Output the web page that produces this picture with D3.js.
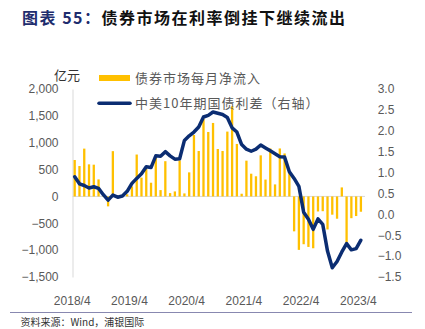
<!DOCTYPE html>
<html>
<head>
<meta charset="utf-8">
<script src="https://cdn.jsdelivr.net/npm/d3@7"></script>
<style>
  body { margin: 0; background: #fff; }
  svg { display: block; }
  .num { font-family: "Liberation Sans", Arial, sans-serif; font-size: 12px; fill: #595959; }
  .cjk { font-family: "Noto Sans CJK SC", sans-serif; }
</style>
</head>
<body>
<div id="chart"></div>
<script>
// month categories 2018/4 .. 2023/4
const months = [];
for (let y = 2018, m = 4; y < 2023 || (y === 2023 && m <= 4); m++) {
    if (m > 12) { m = 1; y++; }
    months.push(y + "/" + m);
}

// 债券市场每月净流入 (亿元)
const netFlow = [
    678, 566, 890, 597, 591, 317, 30, -185, 843, 10,
    20, 40, 187, 780, 350, 510, 255, 720, 118, 656,
    62, 93, 670, 56, 448, 1144, 846, 1443, 1200, 1368,
    883, 846, 1207, 1680, 977, 50, 666, 423, 375, 765,
    314, 893, 224, 893, 800, 450, -650, -995, -890, -940,
    -965, -280, -275, -615, -340, -415, 168, -875, -405, -365,
    -285
];

// 中美10年期国债利差 (右轴, %)
const spread = [
    0.90, 0.73, 0.69, 0.63, 0.66, 0.62, 0.47, 0.34, 0.46, 0.41,
    0.44, 0.55, 0.74, 0.86, 0.97, 1.14, 1.12, 1.40, 1.39, 1.50,
    1.40, 1.32, 1.33, 1.77, 1.88, 1.97, 2.09, 2.33, 2.37, 2.45,
    2.42, 2.39, 2.32, 2.07, 1.97, 1.67, 1.56, 1.51, 1.56, 1.66,
    1.59, 1.52, 1.45, 1.38, 1.37, 1.02, 0.86, 0.67, 0.05, -0.12,
    -0.36, -0.11, -0.24, -0.88, -1.28, -1.13, -0.90, -0.70, -0.85, -0.82,
    -0.62
];

const leftTicks = [-1500, -1000, -500, 0, 500, 1000, 1500, 2000];
const rightTicks = [-1.5, -1.0, -0.5, 0, 0.5, 1.0, 1.5, 2.0, 2.5, 3.0];
const xLabels = ["2018/4", "2019/4", "2020/4", "2021/4", "2022/4", "2023/4"];

const W = 425, H = 329;
const plotTop = 89, plotBottom = 277, plotLeft = 72.5, plotRight = 365;

const svg = d3.select("#chart").append("svg")
    .attr("width", W)
    .attr("height", H);

const x = d3.scalePoint().domain(months).range([74.7, 360.9]);
const yL = d3.scaleLinear().domain([-1500, 2000]).range([plotBottom, plotTop]);
const yR = d3.scaleLinear().domain([-1.5, 3.0]).range([plotBottom, plotTop]);

// title
const title = svg.append("text")
    .attr("class", "cjk")
    .attr("x", 22).attr("y", 23.5)
    .attr("font-size", 16).attr("font-weight", "bold")
    .attr("letter-spacing", 1.5);
title.append("tspan").attr("fill", "#1f2d6e").text("图表 55：");
title.append("tspan").attr("fill", "#111").text("债券市场在利率倒挂下继续流出");

// zero line
svg.append("line")
    .attr("x1", plotLeft).attr("x2", plotRight)
    .attr("y1", yL(0)).attr("y2", yL(0))
    .attr("stroke", "#d9d9d9").attr("stroke-width", 1);

// left axis
const axL = svg.append("g")
    .attr("transform", "translate(" + plotLeft + ",0)")
    .call(d3.axisLeft(yL).tickValues(leftTicks).tickSize(0).tickSizeOuter(0).tickPadding(14).tickFormat(d3.format(",")));
axL.select(".domain").attr("stroke", "#d9d9d9");
axL.selectAll("text").attr("class", "num").attr("fill", null);

// right axis
const axR = svg.append("g")
    .attr("transform", "translate(372,0)")
    .call(d3.axisRight(yR).tickValues(rightTicks).tickSize(0).tickPadding(5.7).tickFormat(d3.format(".1f")));
axR.select(".domain").remove();
axR.selectAll("text").attr("class", "num").attr("fill", null);

// x axis
const axX = svg.append("g")
    .attr("transform", "translate(-3," + plotBottom + ")")
    .call(d3.axisBottom(x).tickValues(xLabels).tickSize(0).tickPadding(19));
axX.select(".domain").remove();
axX.selectAll("text").attr("class", "num").attr("fill", null);

// unit label
svg.append("text")
    .attr("class", "cjk")
    .attr("x", 67).attr("y", 80)
    .attr("text-anchor", "middle")
    .attr("font-size", 13).attr("fill", "#333")
    .text("亿元");

// bars
const barW = 2.3;
svg.append("g").selectAll("rect")
    .data(netFlow)
    .join("rect")
    .attr("x", (d, i) => x(months[i]) - barW / 2)
    .attr("y", d => yL(Math.max(0, d)))
    .attr("width", barW)
    .attr("height", d => Math.abs(yL(d) - yL(0)))
    .attr("fill", "#ffc000");

// spread line
const line = d3.line()
    .x((d, i) => x(months[i]))
    .y(d => yR(d));
svg.append("path")
    .datum(spread)
    .attr("d", line)
    .attr("fill", "none")
    .attr("stroke", "#0b2d72")
    .attr("stroke-width", 3.5)
    .attr("stroke-linejoin", "round")
    .attr("stroke-linecap", "round");

// legend
const legend = svg.append("g");
legend.append("rect")
    .attr("x", 99).attr("y", 75).attr("width", 31).attr("height", 6)
    .attr("fill", "#ffc000");
legend.append("text")
    .attr("class", "cjk")
    .attr("x", 135).attr("y", 78).attr("dy", "0.35em")
    .attr("font-size", 13).attr("letter-spacing", 1).attr("fill", "#595959")
    .text("债券市场每月净流入");
legend.append("line")
    .attr("x1", 99).attr("x2", 130).attr("y1", 103.3).attr("y2", 103.3)
    .attr("stroke", "#0b2d72").attr("stroke-width", 3.5).attr("stroke-linecap", "round");
legend.append("text")
    .attr("class", "cjk")
    .attr("x", 135).attr("y", 103.3).attr("dy", "0.35em")
    .attr("font-size", 13).attr("letter-spacing", 1).attr("fill", "#595959")
    .text("中美10年期国债利差（右轴）");

// footer
svg.append("line")
    .attr("x1", 10).attr("x2", 412).attr("y1", 312.5).attr("y2", 312.5)
    .attr("stroke", "#8888b0").attr("stroke-width", 1);
svg.append("text")
    .attr("class", "cjk")
    .attr("x", 20.5).attr("y", 322).attr("dy", "0.35em")
    .attr("font-size", 10).attr("fill", "#333")
    .text("资料来源：Wind，浦银国际");
</script>
</body>
</html>
